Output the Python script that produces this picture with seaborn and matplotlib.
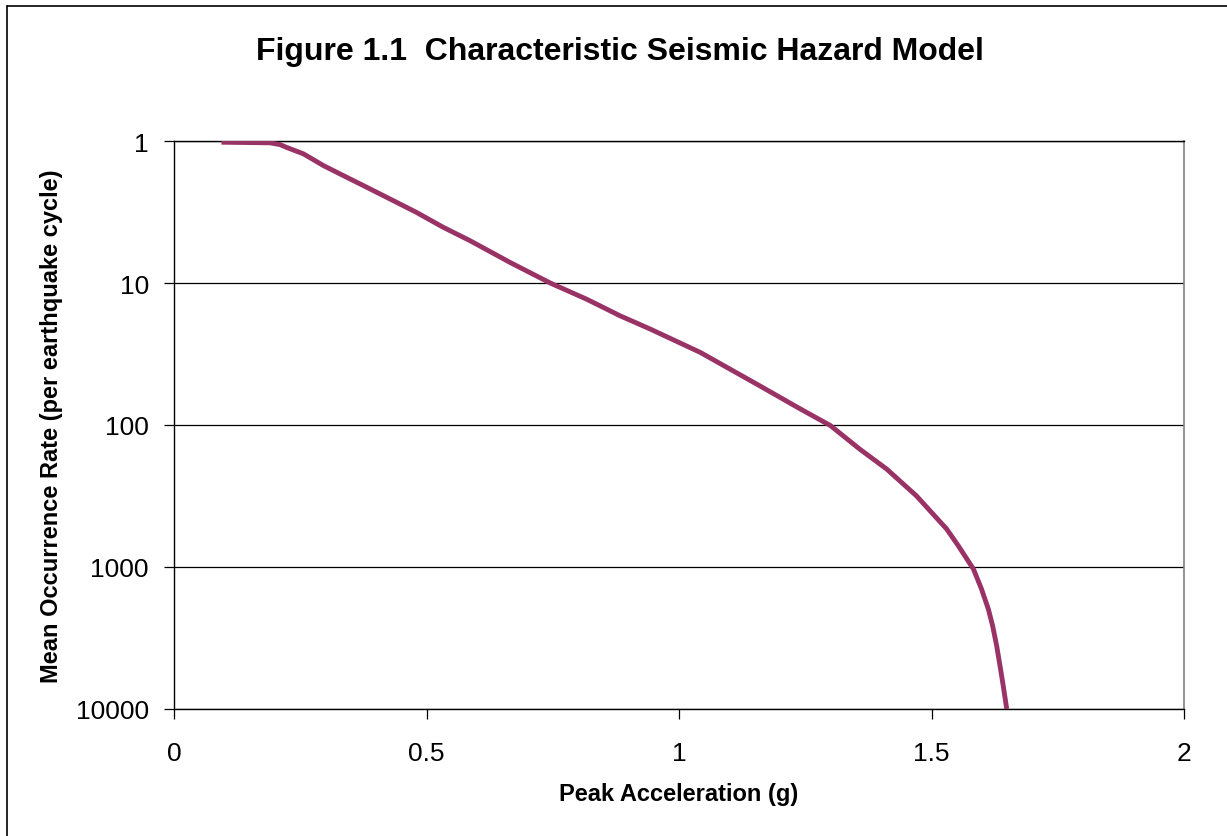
import matplotlib
matplotlib.use("Agg")
import matplotlib.pyplot as plt
import seaborn as sns
import pandas as pd
from matplotlib.ticker import FixedLocator, FixedFormatter, NullLocator
from matplotlib.lines import Line2D

# Data
peak_accel = [0.094, 0.19, 0.21, 0.223, 0.256, 0.296, 0.335, 0.375, 0.421, 0.48,
              0.533, 0.586, 0.665, 0.745, 0.817, 0.844, 0.883, 0.943, 1.042, 1.16,
              1.24, 1.30, 1.358, 1.411, 1.47, 1.53, 1.553, 1.583, 1.599, 1.6125,
              1.621, 1.629, 1.6356, 1.642, 1.649]
occ_rate = [1.02, 1.03, 1.06, 1.11, 1.23, 1.49, 1.75, 2.06, 2.49, 3.18,
            4.05, 5.03, 7.15, 10.0, 13.0, 14.5, 17.0, 21.1, 30.8, 53.0,
            77.0, 101.0, 148.0, 204.0, 315.0, 540.0, 708.0, 1033.0, 1429.0, 1977.0,
            2590.0, 3580.0, 4950.0, 6850.0, 10000.0]
x_ticks = [0, 0.5, 1, 1.5, 2]
x_tick_labels = ["0", "0.5", "1", "1.5", "2"]
y_ticks = [1, 10, 100, 1000, 10000]
y_tick_labels = ["1", "10", "100", "1000", "10000"]

title = "Figure 1.1  Characteristic Seismic Hazard Model"
x_label = "Peak Acceleration (g)"
y_label = "Mean Occurrence Rate (per earthquake cycle)"

sns.set_style("white")
plt.rcParams["font.family"] = ["Liberation Sans", "DejaVu Sans"]
plt.rcParams["text.color"] = "black"
plt.rcParams["axes.labelcolor"] = "black"
plt.rcParams["xtick.color"] = "black"
plt.rcParams["ytick.color"] = "black"

df = pd.DataFrame({"accel": peak_accel, "rate": occ_rate})

fig = plt.figure(figsize=(12.27, 8.37), dpi=100)
ax = fig.add_axes([174 / 1227, 1 - 710 / 837, (1184 - 174) / 1227, (710 - 142) / 837])

sns.lineplot(data=df, x="accel", y="rate", ax=ax, color="#993366",
             linewidth=3.5, estimator=None, sort=False, zorder=3)
ax.lines[0].set_solid_joinstyle("round")
ax.lines[0].set_solid_capstyle("butt")

ax.set_yscale("log")
ax.set_xlim(0, 2)
ax.set_ylim(10000, 1)

ax.xaxis.set_major_locator(FixedLocator(x_ticks))
ax.xaxis.set_major_formatter(FixedFormatter(x_tick_labels))
ax.yaxis.set_major_locator(FixedLocator(y_ticks))
ax.yaxis.set_major_formatter(FixedFormatter(y_tick_labels))
ax.yaxis.set_minor_locator(NullLocator())
ax.xaxis.set_minor_locator(NullLocator())

ax.grid(axis="y", color="black", linewidth=0.9)
ax.grid(axis="x", visible=False)
ax.set_axisbelow(True)

for side in ["left", "bottom", "top"]:
    ax.spines[side].set_color("black")
    ax.spines[side].set_linewidth(1.0)
ax.spines["right"].set_color("#808080")
ax.spines["right"].set_linewidth(1.2)

ax.tick_params(axis="y", direction="out", length=7, width=0.9, colors="black",
               labelsize=19, pad=11, left=True)
ax.tick_params(axis="x", direction="out", length=7, width=0.9, colors="black",
               labelsize=19, pad=16, bottom=True)

ax.set_xlabel(x_label, fontsize=17, fontweight="bold", labelpad=12, color="black")
ax.set_ylabel(y_label, fontsize=17, fontweight="bold", labelpad=9, color="black")

fig.text(620 / 1227, 1 - 52 / 837, title, fontsize=23, fontweight="bold",
         ha="center", va="center", color="black")

# Figure border (left and top edges)
fig.add_artist(Line2D([7 / 1227, 7 / 1227], [0, 1 - 7 / 837], transform=fig.transFigure,
                      color="black", linewidth=1.2))
fig.add_artist(Line2D([7 / 1227, 1], [1 - 7 / 837, 1 - 7 / 837], transform=fig.transFigure,
                      color="black", linewidth=1.2))

fig.savefig("out.png", dpi=100, facecolor="white")
